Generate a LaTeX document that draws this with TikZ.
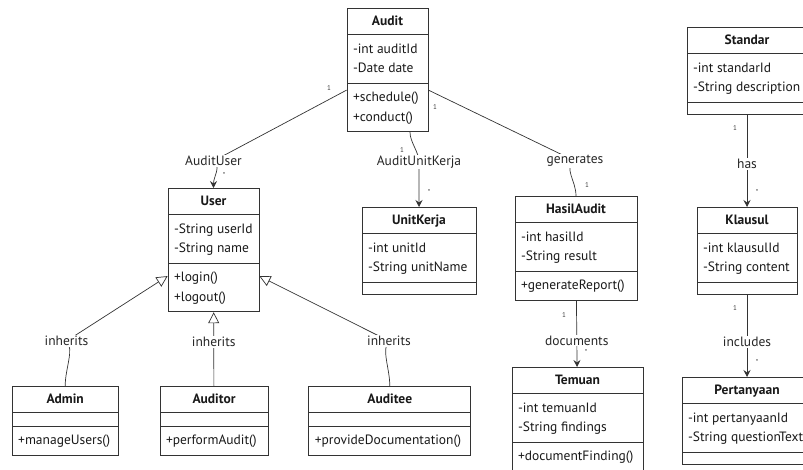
\documentclass[tikz,border=0pt]{standalone}
\usepackage{fontspec}
\setmainfont{PT Sans}
\usetikzlibrary{arrows.meta, positioning, shapes.multipart, backgrounds}
\newcommand{\umlrows}[1]{\begin{tabular}{@{}l@{}}\rule{0pt}{15pt}#1\rule[-6.5pt]{0pt}{6.5pt}\end{tabular}}
\newcommand{\umltitle}[1]{\rule[-5pt]{0pt}{18pt}\textbf{#1}}
\tikzset{
    >=Stealth,
    font=\fontsize{13.5}{19.5}\selectfont,
    uml_class/.style={
        rectangle split,
        rectangle split parts=3,
        rectangle split part align={center,left,left},
        rectangle split empty part height=1pt,
        rectangle split empty part depth=0pt,
        draw=black!80,
        fill=white,
        text=black!90,
        line width=0.8pt,
        inner xsep=6pt,
        inner ysep=3.5pt
    },
    uml_label/.style={
        fill=white,
        inner sep=1pt,
        text=black!85
    },
    uml_mult/.style={
        font=\fontsize{7}{8}\selectfont,
        text=black!75,
        inner sep=0pt
    },
    uml_assoc/.style={
        -{Stealth[length=7pt, width=7pt, inset=2.5pt]},
        draw=black!80,
        line width=0.7pt
    },
    uml_link/.style={
        draw=black!80,
        line width=0.7pt
    },
    uml_inherit/.style={
        -{Triangle[open, length=11pt, width=11pt]},
        draw=black!80,
        line width=0.7pt
    }
}

\begin{document}
\begin{tikzpicture}
\useasboundingbox (0,0) rectangle (803pt,-469pt);
\clip (0,0) rectangle (803pt,-469pt);

% --- Audit and its associations ---
\node[uml_class, minimum width=81pt, anchor=north] (audit) at (387.5pt,-8pt)
  {\umltitle{Audit}
   \nodepart{two}\umlrows{-int auditId\\-Date date}
   \nodepart{three}\umlrows{+schedule()\\+conduct()}};
\node[uml_class, minimum width=91pt, anchor=north] (user) at (213.5pt,-188pt)
  {\umltitle{User}
   \nodepart{two}\umlrows{-String userId\\-String name}
   \nodepart{three}\umlrows{+login()\\+logout()}};
\node[uml_class, minimum width=114pt, anchor=north] (unitkerja) at (419pt,-207pt)
  {\umltitle{UnitKerja}
   \nodepart{two}\umlrows{-int unitId\\-String unitName}
   \nodepart{three}};
\node[uml_class, minimum width=122pt, anchor=north] (hasil) at (576pt,-196pt)
  {\umltitle{HasilAudit}
   \nodepart{two}\umlrows{-int hasilId\\-String result}
   \nodepart{three}\umlrows{+generateReport()}};
\node[uml_class, minimum width=131pt, anchor=north] (temuan) at (577.5pt,-367pt)
  {\umltitle{Temuan}
   \nodepart{two}\umlrows{-int temuanId\\-String findings}
   \nodepart{three}\umlrows{+documentFinding()}};

% --- User subclasses ---
\node[uml_class, minimum width=108pt, anchor=north] (auditor) at (214pt,-386pt)
  {\umltitle{Auditor}
   \nodepart{two}\rule{0pt}{6pt}
   \nodepart{three}\umlrows{+performAudit()}};
\node[uml_class, minimum width=106pt, left=41pt of auditor] (admin)
  {\umltitle{Admin}
   \nodepart{two}\rule{0pt}{6pt}
   \nodepart{three}\umlrows{+manageUsers()}};
\node[uml_class, minimum width=162pt, right=40pt of auditor] (auditee)
  {\umltitle{Auditee}
   \nodepart{two}\rule{0pt}{6pt}
   \nodepart{three}\umlrows{+provideDocumentation()}};

% --- Standar chain ---
\node[uml_class, minimum width=120pt, anchor=north] (standar) at (747pt,-27pt)
  {\umltitle{Standar}
   \nodepart{two}\umlrows{-int standarId\\-String description}
   \nodepart{three}};
\node[uml_class, minimum width=100pt, anchor=north] (klausul) at (747pt,-207pt)
  {\umltitle{Klausul}
   \nodepart{two}\umlrows{-int klausulId\\-String content}
   \nodepart{three}};
\node[uml_class, minimum width=130pt, anchor=north] (pertanyaan) at (747pt,-377pt)
  {\umltitle{Pertanyaan}
   \nodepart{two}\umlrows{-int pertanyaanId\\-String questionText}
   \nodepart{three}};

% --- Edge labels ---
\node[uml_label] (lblAuditUser) at (213.5pt,-161pt) {AuditUser};
\node[uml_label] (lblAuditUnit) at (419pt,-162pt) {AuditUnitKerja};
\node[uml_label] (lblGenerates) at (575pt,-161pt) {generates};
\node[uml_label] (lblAdmin) at (66.5pt,-341pt) {inherits};
\node[uml_label] (lblAuditee) at (389pt,-341pt) {inherits};

% --- Multiplicities ---
\node[uml_mult] (mAU1) at (329pt,-88pt) {1};
\node[uml_mult] (mAU2) at (224pt,-175pt) {*};
\node[uml_mult] (mAK1) at (402pt,-150pt) {1};
\node[uml_mult] (mAK2) at (429pt,-192pt) {*};
\node[uml_mult] (mAH1) at (435pt,-107pt) {1};
\node[uml_mult] (mAH2) at (587pt,-185pt) {1};
\node[uml_mult] (mHT1) at (564pt,-315pt) {1};
\node[uml_mult] (mHT2) at (586pt,-352pt) {*};
\node[uml_mult] (mSK1) at (735pt,-128pt) {1};
\node[uml_mult] (mSK2) at (757pt,-192pt) {*};
\node[uml_mult] (mKP1) at (735pt,-308pt) {1};
\node[uml_mult] (mKP2) at (757pt,-362pt) {*};

% --- Edges ---
\begin{scope}[on background layer]
\draw[uml_assoc] ([yshift=-20pt]audit.west) -- (lblAuditUser.center)
  .. controls +(8pt,-6pt) and +(0,12pt) .. (user.north);
\draw[uml_assoc] ([xshift=22.5pt]audit.south) .. controls +(0,-10pt) and +(0,10pt) .. (lblAuditUnit.center)
  -- (unitkerja.north);
\draw[uml_link] ([yshift=-20pt]audit.east) -- (lblGenerates.center)
  .. controls +(-12pt,-7pt) and +(0,16pt) .. (hasil.north);
\draw[uml_assoc] (hasil) -- node[uml_label, pos=0.6] {documents} (temuan);
\draw[uml_assoc] (standar) -- node[uml_label, pos=0.53] {has} (klausul);
\draw[uml_assoc] (klausul) -- node[uml_label, pos=0.57] {includes} (pertanyaan);

\draw[uml_inherit] (admin.north) .. controls +(0,18pt) and +(8pt,-8pt) .. (lblAdmin.center)
  -- ([yshift=-26pt]user.west);
\draw[uml_inherit] (auditor) -- node[uml_label, pos=0.6] {inherits} (user);
\draw[uml_inherit] (auditee.north) .. controls +(0,18pt) and +(-8pt,-8pt) .. (lblAuditee.center)
  -- ([yshift=-26pt]user.east);
\end{scope}

\end{tikzpicture}
\end{document}
